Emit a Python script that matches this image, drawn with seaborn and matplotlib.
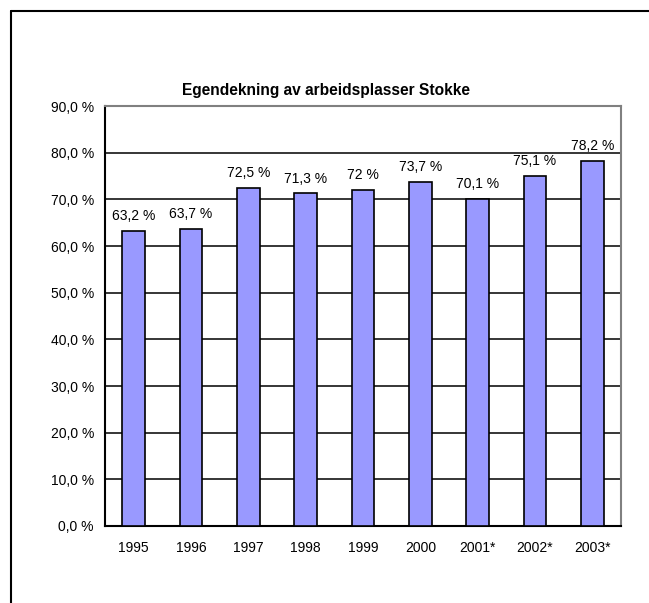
import matplotlib
matplotlib.use("Agg")
import matplotlib.pyplot as plt
import seaborn as sns
import pandas as pd
from matplotlib.lines import Line2D

# ── Data ────────────────────────────────────────────────────
aar = ["1995", "1996", "1997", "1998", "1999", "2000", "2001*", "2002*", "2003*"]
egendekning = [63.2, 63.7, 72.5, 71.3, 72.0, 73.7, 70.1, 75.1, 78.2]
etiketter = ["63,2 %", "63,7 %", "72,5 %", "71,3 %", "72 %", "73,7 %", "70,1 %", "75,1 %", "78,2 %"]
yticks = [0, 10, 20, 30, 40, 50, 60, 70, 80, 90]
ytick_labels = ["0,0 %", "10,0 %", "20,0 %", "30,0 %", "40,0 %", "50,0 %",
                "60,0 %", "70,0 %", "80,0 %", "90,0 %"]
tittel = "Egendekning av arbeidsplasser Stokke"

df = pd.DataFrame({"aar": aar, "verdi": egendekning})

sns.set_style("white", {"text.color": "black", "xtick.color": "black",
                        "ytick.color": "black", "axes.labelcolor": "black"})
plt.rcParams["font.family"] = ["Liberation Sans", "DejaVu Sans"]
FS = 10

fig = plt.figure(figsize=(6.49, 6.03), dpi=100)
ax = fig.add_axes([0.1618, 0.1277, 0.7951, 0.6965])

sns.barplot(data=df, x="aar", y="verdi", color="#9999FF", saturation=1,
            width=0.4, edgecolor="black", linewidth=1.2, ax=ax, zorder=3)

# gridlines
ax.set_ylim(0, 90)
ax.set_xlim(-0.5, len(aar) - 0.5)
ax.set_yticks(yticks)
ax.set_yticklabels(ytick_labels, fontsize=FS)
for y in yticks[1:-1]:
    ax.axhline(y, color="black", lw=1.1, zorder=1)

# x ticks: labels centered, tick marks between categories
ax.set_xticks(range(len(aar)))
ax.set_xticklabels(aar, fontsize=FS)
ax.set_xticks([i - 0.5 for i in range(len(aar) + 1)], minor=True)
ax.tick_params(axis="x", which="major", length=0, pad=11, labelcolor="black")
ax.tick_params(axis="x", which="minor", length=5, width=1.2, direction="out", color="black")
ax.tick_params(axis="y", length=5, width=1.2, direction="out", color="black", pad=3,
               labelcolor="black")
ax.set_xlabel("")
ax.set_ylabel("")

for s in ["left", "bottom"]:
    ax.spines[s].set_color("black")
    ax.spines[s].set_linewidth(1.5)
for s in ["top", "right"]:
    ax.spines[s].set_color("#808080")
    ax.spines[s].set_linewidth(1.5)

# value labels
for i, (v, t) in enumerate(zip(egendekning, etiketter)):
    ax.annotate(t, (i, v), xytext=(0, 5.5), textcoords="offset points",
                ha="center", va="bottom", fontsize=FS, color="black")

fig.text(0.502, 0.838, tittel, ha="center", va="bottom",
         fontsize=11.2, fontweight="bold", color="black")

# outer frame (top and left edges)
fig.add_artist(Line2D([11 / 649, 1], [1 - 11 / 603, 1 - 11 / 603],
                      color="black", lw=1.5, transform=fig.transFigure))
fig.add_artist(Line2D([11 / 649, 11 / 649], [0, 1 - 11 / 603],
                      color="black", lw=1.5, transform=fig.transFigure))

fig.savefig("out.png", dpi=100)
